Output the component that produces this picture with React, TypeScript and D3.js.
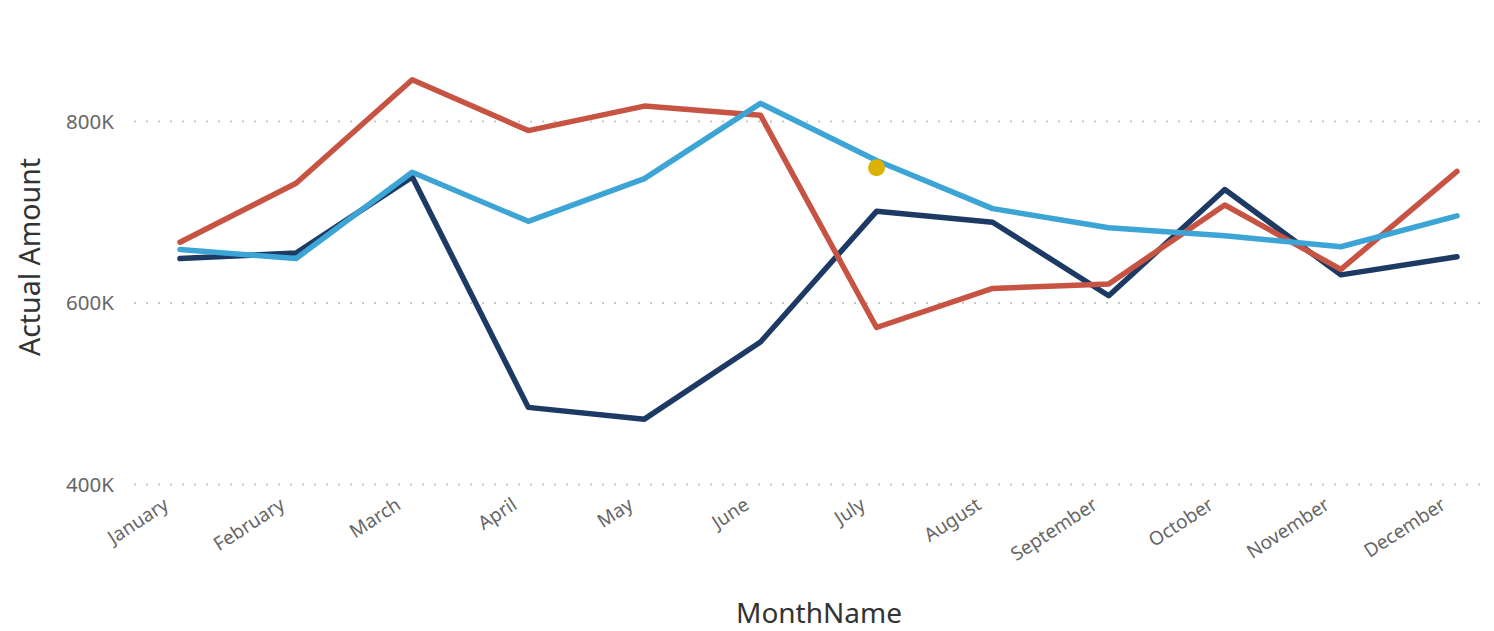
import * as d3 from 'd3'

const months = ['January', 'February', 'March', 'April', 'May', 'June', 'July', 'August', 'September', 'October', 'November', 'December']

// values in thousands
const navySeries = [649, 655, 739, 485, 472, 557, 701, 689, 608, 725, 631, 651]
const redSeries = [667, 732, 846, 790, 817, 807, 573, 616, 621, 708, 637, 745]
const blueSeries = [659, 649, 744, 690, 737, 820, 757, 704, 683, 674, 662, 696]
const highlight = { month: 'July', value: 749 }

const yTicks = [400, 600, 800]

const series = [
  { name: 'navy', values: navySeries, color: '#1c3a63' },
  { name: 'red', values: redSeries, color: '#c75343' },
  { name: 'blue', values: blueSeries, color: '#3ca5d5' },
]

export default function App() {
  const width = 1494
  const height = 631

  const x = d3.scalePoint<string>().domain(months).range([180, 1457])
  const y = d3.scaleLinear().domain([400, 800]).range([484.5, 121.5])

  const line = d3.line<number>()
    .x((_, i) => x(months[i]) as number)
    .y(d => y(d))

  const font = '"Noto Sans", "Open Sans", sans-serif'

  return (
    <svg width={width} height={height} style={{ position: 'absolute', left: 0, top: 0, background: '#fff' }}>
      {/* grid */}
      <g>
        {yTicks.map(t =>
          <g key={t}>
            <line x1={134} x2={1484} y1={y(t)} y2={y(t)}
              stroke="#c8c8c8" strokeWidth={2} strokeDasharray="2 10" />
            <text x={114} y={y(t)} dy="0.35em" textAnchor="end"
              fill="#666" fontSize={20.5} fontFamily={font}>{t}K</text>
          </g>
        )}
      </g>

      {/* lines */}
      <g fill="none" strokeWidth={5.5} strokeLinejoin="round" strokeLinecap="round">
        {series.map(s =>
          <path key={s.name} d={line(s.values) ?? ''} stroke={s.color} />
        )}
      </g>

      <circle cx={x(highlight.month)} cy={y(highlight.value)} r={8.5} fill="#dcb305" />

      {/* x tick labels */}
      <g>
        {months.map(m =>
          <text key={m} transform={`translate(${(x(m) as number) - 10},${508}) rotate(-33)`}
            textAnchor="end" fill="#666" fontSize={19} fontFamily={font}>{m}</text>
        )}
      </g>

      {/* axis titles */}
      <text transform="translate(40,257) rotate(-90)" textAnchor="middle"
        fill="#333" fontSize={28.5} fontFamily={font}>Actual Amount</text>
      <text x={819} y={623} textAnchor="middle" fill="#333" fontSize={28} fontFamily={font}>MonthName</text>
    </svg>
  )
}
